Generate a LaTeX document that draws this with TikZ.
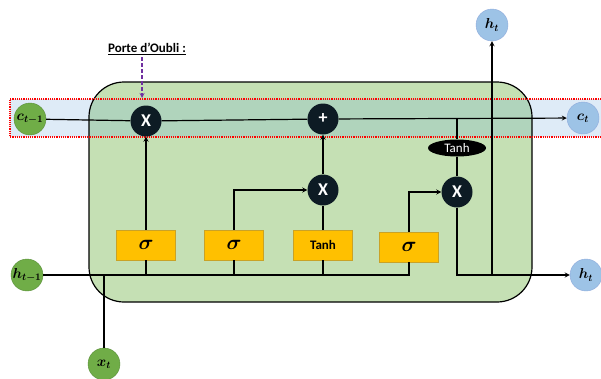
\documentclass[tikz,border=0pt]{standalone}
\usepackage{amsmath}
\usepackage{bm}
\usepackage{fontspec}
\setsansfont{Carlito}
\usetikzlibrary{arrows,shapes,calc}

\definecolor{cellgreen}{HTML}{C5E0B4}
\definecolor{bandblue}{HTML}{DEEBF7}
\definecolor{bandmix}{HTML}{B0D4BC}
\definecolor{ingreen}{HTML}{70AD47}
\definecolor{ingreenline}{HTML}{5A8F3A}
\definecolor{outblue}{HTML}{9DC3E6}
\definecolor{outblueline}{HTML}{8FAADC}
\definecolor{gateorange}{HTML}{FFC000}
\definecolor{gateline}{HTML}{C9A227}
\definecolor{opdark}{HTML}{0D1B24}
\definecolor{notepurple}{HTML}{7030A0}

\tikzset{
	invar/.style={circle, fill=ingreen, draw=ingreenline, minimum size=32pt, inner sep=0pt, font=\fontsize{14}{14}\selectfont},
	outvar/.style={circle, fill=outblue, draw=outblueline, minimum size=32pt, inner sep=0pt, font=\fontsize{14}{14}\selectfont},
	op/.style={circle, fill=opdark, minimum size=31pt, inner sep=0pt, text=white, font=\sffamily\bfseries\fontsize{18}{18}\selectfont},
	gate/.style={rectangle, fill=gateorange, draw=gateline, minimum width=59pt, minimum height=30pt, inner sep=0pt, font=\fontsize{20}{20}\selectfont},
	wire/.style={line width=1.2pt},
}

\begin{document}
\begin{tikzpicture}[x=1pt, y=-1pt, >=stealth]
	
	\useasboundingbox (0,0) rectangle (601,378);
	
	% cell and cell state band
	\fill[bandblue] (10,99) rectangle (601,137);
	\fill[cellgreen] (89,82) [rounded corners=35pt] rectangle (532,302);
	\begin{scope}
		\clip (89,82) [rounded corners=35pt] rectangle (532,302);
		\fill[bandmix] (10,99) rectangle (601,137);
	\end{scope}
	\draw[line width=1.2pt, rounded corners=35pt] (89,82) rectangle (532,302);
	\draw[red, densely dotted, line width=1.2pt] (601,99) -- (10,99) -- (10,137) -- (601,137);
	
	% inputs and outputs
	\node[invar] (cprev) at (30,119) {$\bm{c_{t-1}}$};
	\node[invar] (hprev) at (27,275) {$\bm{h_{t-1}}$};
	\node[invar] (xt) at (104,364) {$\bm{x_t}$};
	\node[outvar] (ct) at (583,118) {$\bm{c_t}$};
	\node[outvar] (hright) at (586,275) {$\bm{h_t}$};
	\node[outvar] (htop) at (492,25) {$\bm{h_t}$};
	
	% operations
	\node[op] (fx) at (146,121) {X};
	\node[op] (plus) at (323,119) {+};
	\node[op] (ix) at (323,190) {X};
	\node[op] (ox) at (457,192) {X};
	\node[ellipse, fill=black, minimum width=58pt, minimum height=17pt, inner sep=0pt, text=white, font=\sffamily\fontsize{13}{13}\selectfont] (tanhe) at (457,148) {Tanh};
	
	% gates
	\node[gate] (sig1) at (146,245) {$\bm{\sigma}$};
	\node[gate] (sig2) at (234,245) {$\bm{\sigma}$};
	\node[gate, font=\sffamily\bfseries\fontsize{13}{13}\selectfont] (tanhb) at (323,245) {Tanh};
	\node[gate] (sig4) at (409,247) {$\bm{\sigma}$};
	
	% label
	\node[font=\sffamily\bfseries\fontsize{13}{13}\selectfont] (forget) at (147,49) {\underline{Porte d'Oubli :}};
	\coordinate (fa) at (142,57);
	\coordinate (fb) at (142,98);
	\draw[notepurple, dash pattern=on 4pt off 2pt, line width=1.2pt, ->] (fa) -- (fb);
	
	% cell state line
	\draw[wire] (cprev) -- (fx);
	\draw[wire] (fx) -- (plus);
	\draw[wire, ->] (plus) -- (ct);
	
	% hidden line
	\coordinate (hend) at (409,275);
	\coordinate (split) at (492,275);
	\draw[wire] (hprev) -- (hend) -- (sig4.south);
	\draw[wire] (xt) -- (xt |- hend);
	\draw[wire] (sig1.south) -- (sig1.south |- hend);
	\draw[wire] (sig2.south) -- (sig2.south |- hend);
	\draw[wire] (tanhb.south) -- (tanhb.south |- hend);
	
	% gate outputs
	\draw[wire, ->] (sig1) -- (fx);
	\draw[wire, ->] (sig2.north) |- (ix.west);
	\draw[wire] (tanhb) -- (ix);
	\draw[wire, ->] (ix) -- (plus);
	\draw[wire, ->] (sig4.north) |- (ox.west);
	\draw[wire] (tanhe.north) -- (tanhe.north |- plus.east);
	\draw[wire] (ox) -- (tanhe);
	\draw[wire, ->] (ox.south) |- (hright.west);
	\draw[wire, ->] (split) -- (htop);
	
\end{tikzpicture}
\end{document}
